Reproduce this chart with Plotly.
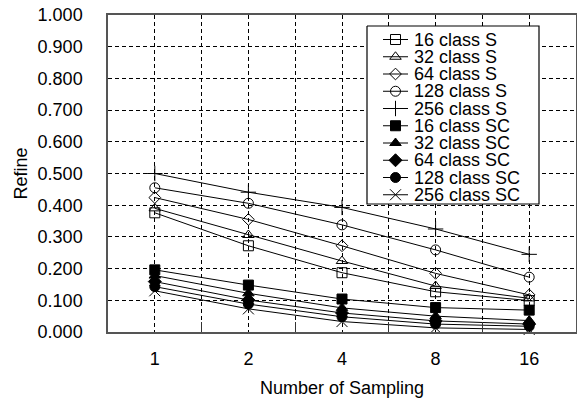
import plotly.graph_objects as go

# ---- data ----
x_labels = ["1", "2", "4", "8", "16"]
y_ticks = [0.0, 0.1, 0.2, 0.3, 0.4, 0.5, 0.6, 0.7, 0.8, 0.9, 1.0]

s16 = [0.376, 0.272, 0.187, 0.127, 0.099]
s32 = [0.390, 0.306, 0.224, 0.145, 0.106]
s64 = [0.424, 0.355, 0.272, 0.185, 0.117]
s128 = [0.455, 0.406, 0.338, 0.259, 0.173]
s256 = [0.500, 0.441, 0.393, 0.325, 0.245]
sc16 = [0.196, 0.148, 0.104, 0.077, 0.069]
sc32 = [0.178, 0.122, 0.076, 0.050, 0.036]
sc64 = [0.159, 0.101, 0.060, 0.035, 0.025]
sc128 = [0.143, 0.088, 0.048, 0.025, 0.018]
sc256 = [0.130, 0.073, 0.033, 0.013, 0.008]

names = ["16 class S", "32 class S", "64 class S", "128 class S", "256 class S",
         "16 class SC", "32 class SC", "64 class SC", "128 class SC", "256 class SC"]
series = [s16, s32, s64, s128, s256, sc16, sc32, sc64, sc128, sc256]
symbols = ["square-open", "triangle-up-open", "diamond-open", "circle-open", "cross-thin-open",
           "square", "triangle-up", "diamond", "circle", "x-thin-open"]
sizes = [10, 10, 9, 10, 11, 10, 10, 10, 10, 11]

FONT = "Liberation Sans, Arial, sans-serif"
GRID_DASH = "4px,3px"

xpos = list(range(len(x_labels)))

fig = go.Figure()
for name, ys, sym, sz in zip(names, series, symbols, sizes):
    fig.add_trace(go.Scatter(
        x=xpos, y=ys, mode="lines+markers", name=name, showlegend=False,
        line=dict(color="black", width=1),
        marker=dict(symbol=sym, size=sz, color="black",
                    line=dict(color="black", width=1)),
        cliponaxis=False,
    ))

# ---- hand-built legend on an overlay axis in plot-pixel units ----
L, R, T, B = 108, 576, 15, 332
box_x = [367, 539, 539, 367, 367]
box_y = [26, 26, 204, 204, 26]
fig.add_trace(go.Scatter(x=box_x, y=box_y, xaxis="x2", yaxis="y2", mode="lines",
                         fill="toself", fillcolor="white",
                         line=dict(color="black", width=1.2),
                         showlegend=False, hoverinfo="skip"))
y0, step = 39.5, 17.25
for i, (name, sym, sz) in enumerate(zip(names, symbols, sizes)):
    yy = y0 + step * i
    fig.add_trace(go.Scatter(x=[383, 408], y=[yy, yy], xaxis="x2", yaxis="y2",
                             mode="lines", line=dict(color="black", width=1),
                             showlegend=False, hoverinfo="skip"))
    fig.add_trace(go.Scatter(x=[395.5], y=[yy], xaxis="x2", yaxis="y2",
                             mode="markers",
                             marker=dict(symbol=sym, size=sz, color="black",
                                         line=dict(color="black", width=1)),
                             showlegend=False, hoverinfo="skip"))
    fig.add_annotation(x=412, y=yy, xref="x2", yref="y2", text=name,
                       showarrow=False, xanchor="left", yanchor="middle",
                       font=dict(family=FONT, size=18, color="black"))

fig.update_layout(
    width=577, height=398,
    margin=dict(l=L, r=577 - R, t=T, b=398 - B),
    paper_bgcolor="white", plot_bgcolor="white",
    font=dict(family=FONT, size=18, color="black"),
    showlegend=False,
    xaxis=dict(
        range=[-0.5, 4.5], tickmode="array", tickvals=xpos, ticktext=x_labels,
        showgrid=True, gridcolor="black", gridwidth=1, griddash=GRID_DASH,
        ticks="", zeroline=False,
        showline=True, mirror=True, linecolor="#555", linewidth=1.5,
        minor=dict(tickmode="array", tickvals=[0.5, 1.5, 2.5, 3.5],
                   showgrid=True, gridcolor="black", gridwidth=1, griddash=GRID_DASH,
                   ticks="inside", ticklen=10, tickcolor="#333", tickwidth=1),
        title=dict(text="Number of Sampling", standoff=14,
                   font=dict(family=FONT, size=18)),
        ticklabelstandoff=10,
        tickfont=dict(family=FONT, size=18),
        automargin=False,
    ),
    yaxis=dict(
        range=[0, 1], tickmode="array", tickvals=y_ticks, tickformat=".3f",
        showgrid=True, gridcolor="black", gridwidth=1, griddash=GRID_DASH,
        ticks="", zeroline=False,
        showline=True, mirror=True, linecolor="#555", linewidth=1.5,
        title=dict(text="Refine", standoff=5, font=dict(family=FONT, size=18)),
        ticklabelstandoff=20,
        tickfont=dict(family=FONT, size=18),
        automargin=False,
    ),
    xaxis2=dict(range=[L, R], overlaying="x", visible=False, fixedrange=True),
    yaxis2=dict(range=[B, T], overlaying="y", visible=False, fixedrange=True),
)

fig.write_html("out.html", config={"displayModeBar": False},
               post_script="document.body.style.margin='0';")
